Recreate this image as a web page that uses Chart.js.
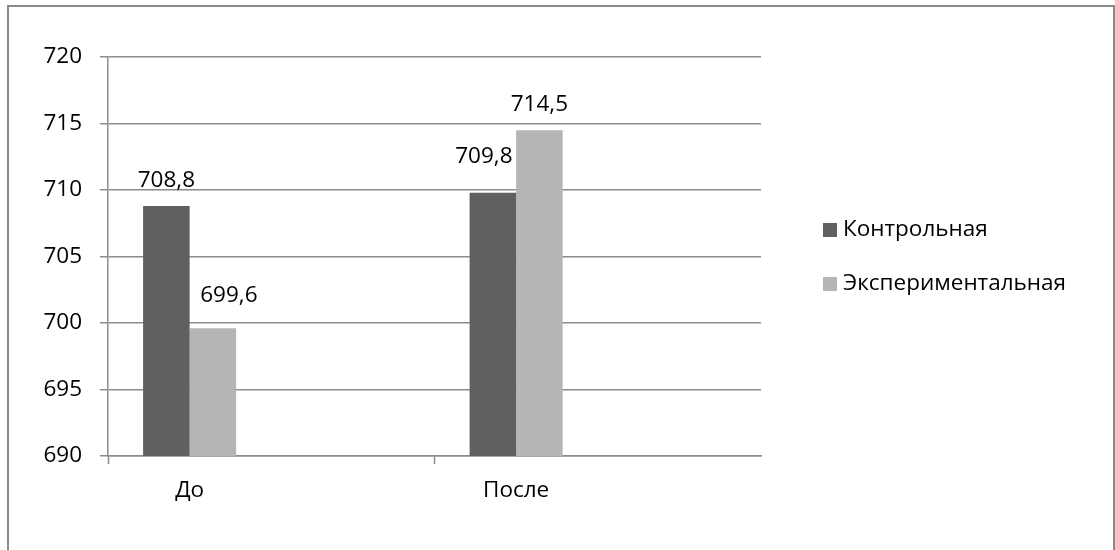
<!DOCTYPE html>
<html lang="ru">
<head>
<meta charset="utf-8">
<title>Контрольная и экспериментальная группы</title>
<script src="https://cdn.jsdelivr.net/npm/chart.js@4.4.1/dist/chart.umd.min.js"></script>
<style>
  html, body { margin: 0; padding: 0; background: #ffffff; }
  #wrap { position: relative; width: 1115px; height: 550px; }
</style>
</head>
<body>
<div id="wrap"><canvas id="chart" width="1115" height="550"></canvas></div>
<script>
// Measurement periods
const CATEGORIES = ['До', 'После'];
// Series
const SERIES_NAMES = ['Контрольная', 'Экспериментальная'];
const CONTROL = [708.8, 709.8];
const EXPERIMENTAL = [699.6, 714.5];
// Value axis
const Y_MIN = 690;
const Y_MAX = 720;
const Y_STEP = 5;

const COLORS = ['#606060', '#b5b5b5'];
const GRID = '#8c8c8c';
const FONT = '"Open Sans", "Liberation Sans", sans-serif';
const FONT_SIZE = 22.5;

// Each period occupies a slot followed by an empty spacer slot
const slotLabels = [];
CATEGORIES.forEach(c => { slotLabels.push(c); slotLabels.push(''); });
function spread(values) {
  const out = [];
  values.forEach(v => { out.push(v); out.push(null); });
  return out;
}

// Label nudges (px) so neighbouring value labels do not collide with bars
const LABEL_NUDGE = {
  '1:0': { dx: 16, dy: -7 },
  '0:2': { dx: -9, dy: -11 }
};

const frame = {
  id: 'frame',
  beforeDraw(chart) {
    const ctx = chart.ctx;
    ctx.save();
    ctx.fillStyle = '#ffffff';
    ctx.fillRect(0, 0, chart.width, chart.height);
    ctx.strokeStyle = '#8a8a8a';
    ctx.lineWidth = 2;
    ctx.strokeRect(8, 6, chart.width - 9, chart.height + 20);
    ctx.restore();
  }
};

const valueLabels = {
  id: 'valueLabels',
  afterDatasetsDraw(chart) {
    const ctx = chart.ctx;
    ctx.save();
    ctx.font = FONT_SIZE + 'px ' + FONT;
    ctx.fillStyle = '#000000';
    ctx.textAlign = 'center';
    ctx.textBaseline = 'bottom';
    chart.data.datasets.forEach((ds, di) => {
      const meta = chart.getDatasetMeta(di);
      meta.data.forEach((bar, i) => {
        const v = ds.data[i];
        if (v === null || v === undefined) return;
        const n = LABEL_NUDGE[di + ':' + i] || { dx: 0, dy: 0 };
        const txt = v.toFixed(1).replace('.', ',');
        ctx.fillText(txt, bar.x + n.dx, bar.y - 14 + n.dy);
      });
    });
    ctx.restore();
  }
};

const sideLegend = {
  id: 'sideLegend',
  afterDraw(chart) {
    const ctx = chart.ctx;
    ctx.save();
    ctx.font = FONT_SIZE + 'px ' + FONT;
    ctx.textBaseline = 'middle';
    ctx.textAlign = 'left';
    chart.data.datasets.forEach((ds, di) => {
      const y = 230 + di * 54;
      ctx.fillStyle = ds.backgroundColor;
      ctx.fillRect(823, y - 7, 14, 14);
      ctx.fillStyle = '#000000';
      ctx.fillText(ds.label, 843, y);
    });
    ctx.restore();
  }
};

new Chart(document.getElementById('chart'), {
  type: 'bar',
  data: {
    labels: slotLabels,
    datasets: [
      { label: SERIES_NAMES[0], data: spread(CONTROL), backgroundColor: COLORS[0] },
      { label: SERIES_NAMES[1], data: spread(EXPERIMENTAL), backgroundColor: COLORS[1] }
    ]
  },
  options: {
    responsive: false,
    animation: false,
    layout: { padding: { left: 0, top: 57, right: 354, bottom: 0 } },
    datasets: { bar: { categoryPercentage: 0.57, barPercentage: 1.0, skipNull: false } },
    plugins: {
      legend: { display: false },
      tooltip: { enabled: false }
    },
    scales: {
      x: {
        offset: true,
        grid: {
          offset: true,
          drawOnChartArea: false,
          drawTicks: true,
          tickLength: 8,
          tickWidth: 1.5,
          tickColor: (c) => (c.index % 2 === 0 ? GRID : 'rgba(0,0,0,0)')
        },
        border: { color: GRID, width: 1.5 },
        ticks: {
          autoSkip: false,
          maxRotation: 0,
          padding: 13,
          color: '#000000',
          font: { family: FONT, size: FONT_SIZE }
        },
        afterFit(scale) { scale.height = 94; }
      },
      y: {
        min: Y_MIN,
        max: Y_MAX,
        ticks: {
          stepSize: Y_STEP,
          padding: 18,
          color: '#000000',
          font: { family: FONT, size: FONT_SIZE }
        },
        grid: {
          color: GRID,
          lineWidth: 1.5,
          tickLength: 8,
          drawTicks: true
        },
        border: { color: GRID, width: 1.5 },
        afterFit(scale) { scale.width = 108; }
      }
    }
  },
  plugins: [frame, valueLabels, sideLegend]
});
</script>
</body>
</html>
